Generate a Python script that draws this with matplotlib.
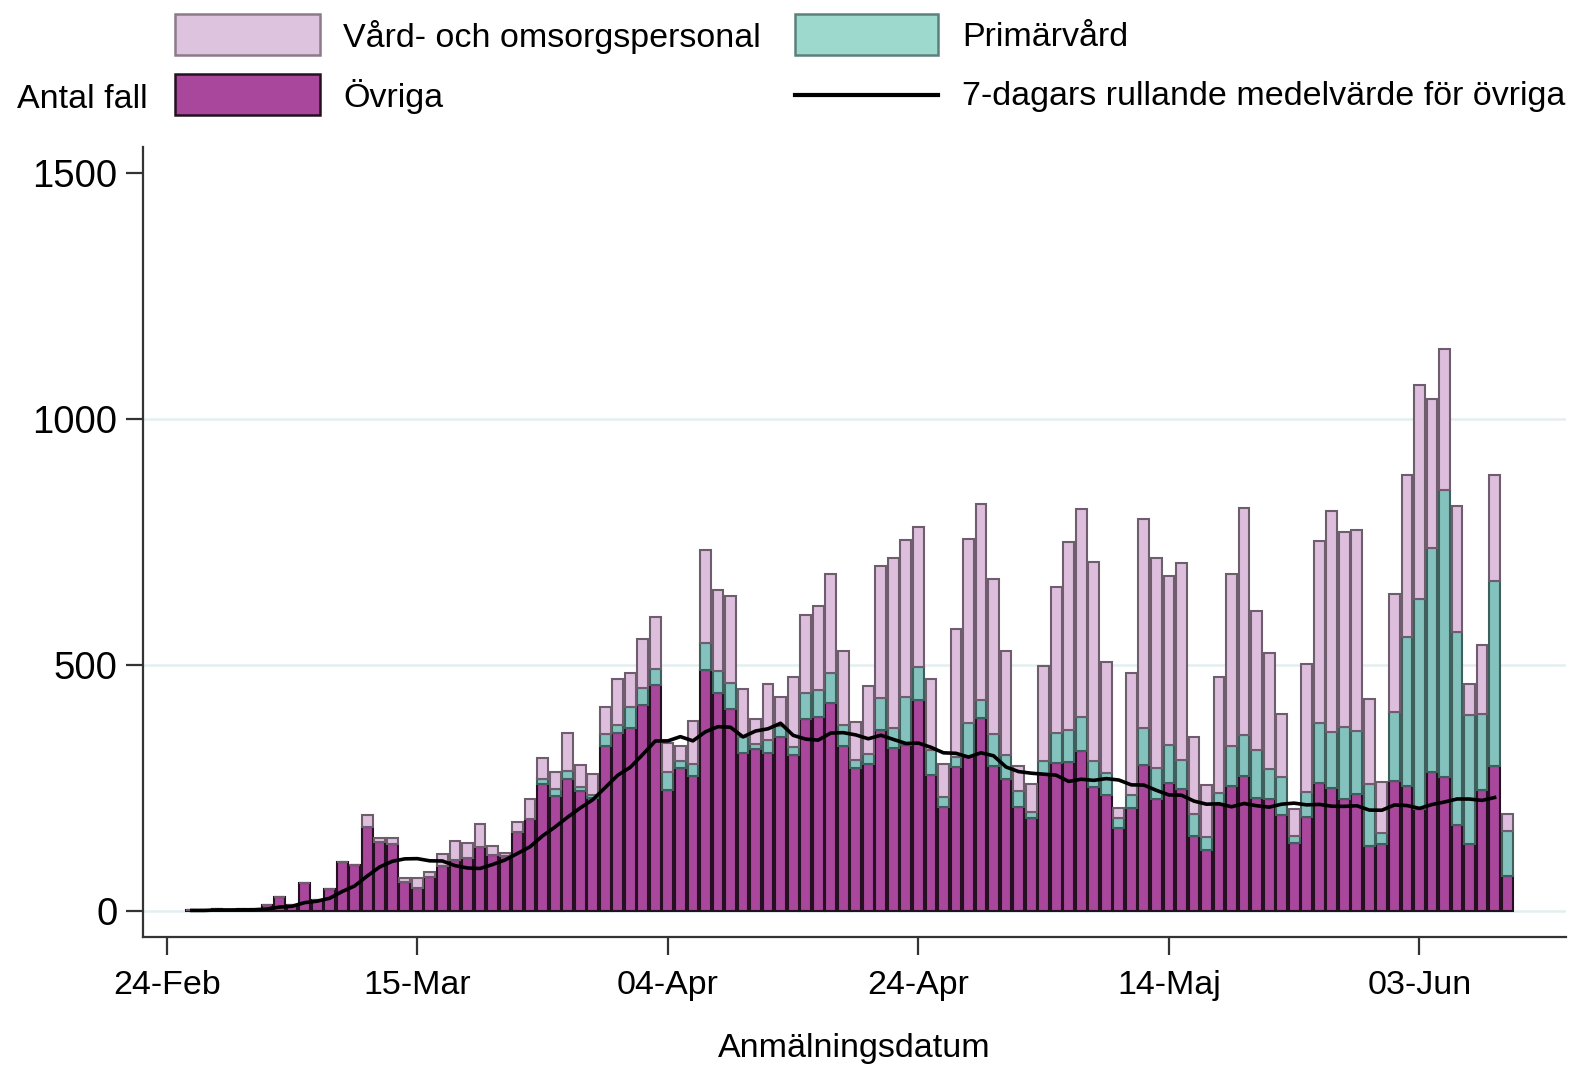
import numpy as np
import pandas as pd
import matplotlib
matplotlib.use("Agg")
import matplotlib.pyplot as plt
import matplotlib.dates as mdates
from matplotlib.patches import Rectangle
from matplotlib.lines import Line2D

# ---------------- data ----------------
dates = pd.date_range("2020-02-26", "2020-06-10", freq="D")

ovriga = [1, 1, 4, 2, 3, 3, 13, 29, 12, 56, 23, 44, 99, 93, 170, 141, 136, 58, 47, 68,
          91, 104, 107, 129, 114, 112, 161, 186, 259, 234, 268, 244, 230, 335, 361, 371,
          418, 459, 246, 290, 275, 490, 444, 410, 322, 329, 322, 354, 318, 390, 395, 423,
          335, 290, 299, 368, 331, 337, 428, 276, 211, 292, 314, 392, 295, 268, 211, 188,
          278, 300, 303, 326, 252, 236, 168, 209, 297, 228, 261, 248, 152, 124, 215, 254,
          275, 229, 228, 194, 139, 190, 261, 249, 227, 237, 132, 137, 265, 253, 208, 282,
          273, 175, 136, 246, 294, 70]

primarvard = [0] * 28 + [9, 13, 17, 7, 5, 24, 17, 44, 35, 33, 36, 14, 23, 55, 44, 53, 32,
              10, 26, 21, 16, 54, 54, 61, 43, 17, 20, 64, 40, 97, 67, 51, 21, 20, 69, 37,
              65, 48, 32, 14, 27, 61, 65, 69, 52, 44, 20, 27, 74, 63, 76, 58, 45, 27, 25,
              81, 83, 98, 61, 78, 13, 51, 122, 115, 147, 129, 127, 22, 140, 303, 426, 455,
              582, 392, 263, 155, 377, 92]

vard = [0] * 14 + [25, 7, 12, 8, 19, 12, 25, 39, 32, 48, 18, 5, 19, 42, 42, 36, 77, 46,
        43, 55, 93, 68, 99, 106, 60, 32, 89, 189, 164, 178, 97, 51, 113, 59, 141, 158, 171,
        201, 150, 78, 139, 270, 347, 320, 286, 144, 67, 261, 374, 398, 315, 213, 52, 57,
        193, 298, 381, 422, 406, 227, 21, 247, 425, 426, 344, 401, 157, 105, 236, 349, 462,
        283, 236, 128, 55, 262, 370, 450, 396, 408, 172, 104, 239, 331, 435, 304, 287, 257,
        63, 140, 216, 36]

tick_dates = ["2020-02-24", "2020-03-15", "2020-04-04", "2020-04-24", "2020-05-14", "2020-06-03"]
tick_labels = ["24-Feb", "15-Mar", "04-Apr", "24-Apr", "14-Maj", "03-Jun"]
y_ticks = [0, 500, 1000, 1500]

legend_labels = ["Vård- och omsorgspersonal", "Primärvård", "Övriga",
                 "7-dagars rullande medelvärde för övriga"]

# 7-day trailing mean of "Övriga" (line stops one day before the last bar)
roll = pd.Series(ovriga, index=dates).rolling(7, min_periods=1).mean().iloc[:-1]

# ---------------- style ----------------
plt.rcParams["font.family"] = ["Liberation Sans", "DejaVu Sans"]
W, H = 1577, 1067
fig = plt.figure(figsize=(W / 100, H / 100), dpi=100)

def fx(px):
    return px / W

def fy(py):
    return 1 - py / H

ax_left, ax_right, ax_top, ax_bottom = 143, 1566, 147, 937
ax = fig.add_axes([fx(ax_left), fy(ax_bottom), fx(ax_right) - fx(ax_left),
                   fy(ax_top) - fy(ax_bottom)])

c_ov, c_pv, c_vd = "#A8479C", "#83C2BD", "#DDBEDC"
e_ov, e_pv, e_vd = "#241020", "#3F5F5C", "#6E5E6D"

ov = np.array(ovriga, dtype=float)
pv = np.array(primarvard, dtype=float)
vd = np.array(vard, dtype=float)

bw = 0.86
lw = 1.5
ax.bar(dates, ov, width=bw, color=c_ov, edgecolor=e_ov, linewidth=lw, zorder=3)
ax.bar(dates, pv, width=bw, bottom=ov, color=c_pv, edgecolor=e_pv, linewidth=lw, zorder=3)
ax.bar(dates, vd, width=bw, bottom=ov + pv, color=c_vd, edgecolor=e_vd, linewidth=lw, zorder=3)
ax.plot(roll.index, roll.values, color="black", linewidth=2.6, zorder=4)

t0 = pd.Timestamp("2020-02-24")
xmin = mdates.date2num(t0) - 1.9
xmax = mdates.date2num(t0) + 111.7
ax.set_xlim(xmin, xmax)
ax.set_ylim(-53, 1553)

ax.set_yticks(y_ticks)
ax.set_yticklabels([str(v) for v in y_ticks], fontsize=27.5)
ax.set_xticks([mdates.date2num(pd.Timestamp(d)) for d in tick_dates])
ax.set_xticklabels(tick_labels, fontsize=24.5)

for v in [0, 500, 1000]:
    ax.axhline(v, color="#E4EEF0", linewidth=1.8, zorder=1)

for s in ["top", "right"]:
    ax.spines[s].set_visible(False)
for s in ["left", "bottom"]:
    ax.spines[s].set_color("#333333")
    ax.spines[s].set_linewidth(1.6)
ax.tick_params(axis="both", direction="out", color="#333333", width=1.6)
ax.tick_params(axis="y", length=12.5, pad=6)
ax.tick_params(axis="x", length=13, pad=11)

# x-axis title placed in figure coordinates so it stays inside the canvas
fig.text((fx(ax_left) + fx(ax_right)) / 2, fy(1049), "Anmälningsdatum",
         fontsize=24.5, ha="center", va="center")

# ---------------- legend (manual, figure coordinates) ----------------
def patch(x0, y0, x1, y1, fc, ec):
    fig.add_artist(Rectangle((fx(x0), fy(y1)), fx(x1) - fx(x0), fy(y0) - fy(y1),
                             transform=fig.transFigure, facecolor=fc, edgecolor=ec,
                             linewidth=1.8))

patch(175, 14, 320, 55, "#DEC3DE", "#8C7A8B")
patch(795, 14, 938, 55, "#9DD9CC", "#5B807D")
patch(175, 74, 320, 115, c_ov, e_ov)
fig.add_artist(Line2D([fx(795), fx(938)], [fy(95), fy(95)], transform=fig.transFigure,
                      color="black", linewidth=3))

fs = 24.5
fig.text(fx(343), fy(37), legend_labels[0], fontsize=fs, va="center", ha="left")
fig.text(fx(962), fy(37), legend_labels[1], fontsize=fs, va="center", ha="left")
fig.text(fx(343), fy(97), legend_labels[2], fontsize=fs, va="center", ha="left")
fig.text(fx(962), fy(97), legend_labels[3], fontsize=fs, va="center", ha="left")
fig.text(fx(17), fy(99), "Antal fall", fontsize=fs, va="center", ha="left")

fig.savefig("out.png", dpi=100, facecolor="white")
